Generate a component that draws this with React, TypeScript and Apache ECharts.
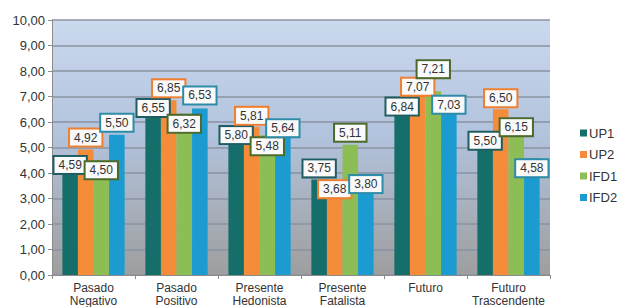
import React, { useEffect, useRef } from "react";
import * as echarts from "echarts";

const categories = [
  "Pasado\nNegativo",
  "Pasado\nPositivo",
  "Presente\nHedonista",
  "Presente\nFatalista",
  "Futuro",
  "Futuro\nTrascendente",
];
const seriesNames = ["UP1", "UP2", "IFD1", "IFD2"];
const up1 = [4.59, 6.55, 5.8, 3.75, 6.84, 5.5];
const up2 = [4.92, 6.85, 5.81, 3.68, 7.07, 6.5];
const ifd1 = [4.5, 6.32, 5.48, 5.11, 7.21, 6.15];
const ifd2 = [5.5, 6.53, 5.64, 3.8, 7.03, 4.58];
const yTicks = { min: 0, max: 10, interval: 1 };

// label centre offset (px) from the bar top, positive = downwards
const up1LabelDy = [7, 0, 8, -11, 6, 6];
const up2LabelDy = [-12, -12, -11, 8, -8, -11];
const ifd1LabelDy = [10, 10, 11, -12, -22, 9];
const ifd2LabelDy = [-12, -13, -3, 6, 9, 10];

const barColors = ["#166e6a", "#f58c3a", "#8dbd55", "#1b9bd0"];
const labelBorders = ["#1f5d63", "#f07f30", "#4c6a2c", "#2e8ca8"];
const FONT = "Liberation Sans, Arial, sans-serif";

export default function App() {
  const ref = useRef<HTMLDivElement>(null);
  useEffect(() => {
    document.body.style.margin = "0";
    if (!ref.current) return;
    const chart = echarts.init(ref.current, null, { renderer: "svg" });
    const values = [up1, up2, ifd1, ifd2];
    const dys = [up1LabelDy, up2LabelDy, ifd1LabelDy, ifd2LabelDy];
    const series = seriesNames.map((name, si) => ({
      name,
      type: "bar",
      barGap: "0%",
      barCategoryGap: "25%",
      itemStyle: { color: barColors[si] },
      data: values[si].map((v, i) => ({
        value: v,
        label: {
          show: true,
          position: ["50%", dys[si][i]],
          align: "center",
          verticalAlign: "middle",
          formatter: (p: any) => p.value.toFixed(2).replace(".", ","),
          color: "#333",
          fontSize: 12,
          fontFamily: FONT,
          lineHeight: 14,
          backgroundColor: "#fafafa",
          borderColor: labelBorders[si],
          borderWidth: 2,
          padding: [1, 4, 1, 4],
        },
      })),
    }));
    chart.setOption({
      animation: false,
      textStyle: { fontFamily: FONT },
      grid: {
        left: 52,
        right: 68,
        top: 20,
        bottom: 28,
        show: true,
        borderWidth: 0,
        backgroundColor: new echarts.graphic.LinearGradient(0, 0, 0, 1, [
          { offset: 0, color: "#cbd9ee" },
          { offset: 0.45, color: "#b2c3dd" },
          { offset: 1, color: "#9e9e9e" },
        ]),
      },
      legend: {
        orient: "vertical",
        left: 575,
        top: 121,
        icon: "rect",
        itemWidth: 7,
        itemHeight: 7,
        itemGap: 7.5,
        textStyle: { fontSize: 13, color: "#333", fontFamily: FONT, lineHeight: 14, padding: [0, 0, 0, -3] },
        data: seriesNames,
      },
      xAxis: {
        type: "category",
        data: categories,
        axisLine: { lineStyle: { color: "#8c8c8c", width: 1 } },
        axisTick: { show: true, length: 4, lineStyle: { color: "#8c8c8c" } },
        axisLabel: { color: "#333", fontSize: 12, lineHeight: 13, margin: 6, fontFamily: FONT, interval: 0 },
      },
      yAxis: {
        type: "value",
        min: yTicks.min,
        max: yTicks.max,
        interval: yTicks.interval,
        axisLine: { show: true, lineStyle: { color: "#8c8c8c" } },
        axisTick: { show: true, length: 4, lineStyle: { color: "#8c8c8c" } },
        axisLabel: {
          color: "#333",
          fontSize: 13,
          margin: 7,
          fontFamily: FONT,
          formatter: (v: number) => v.toFixed(2).replace(".", ","),
        },
        splitLine: { lineStyle: { color: "#8a93a2", width: 1.5 } },
      },
      series,
    });
    return () => chart.dispose();
  }, []);
  return <div ref={ref} style={{ width: 618, height: 307 }} />;
}
